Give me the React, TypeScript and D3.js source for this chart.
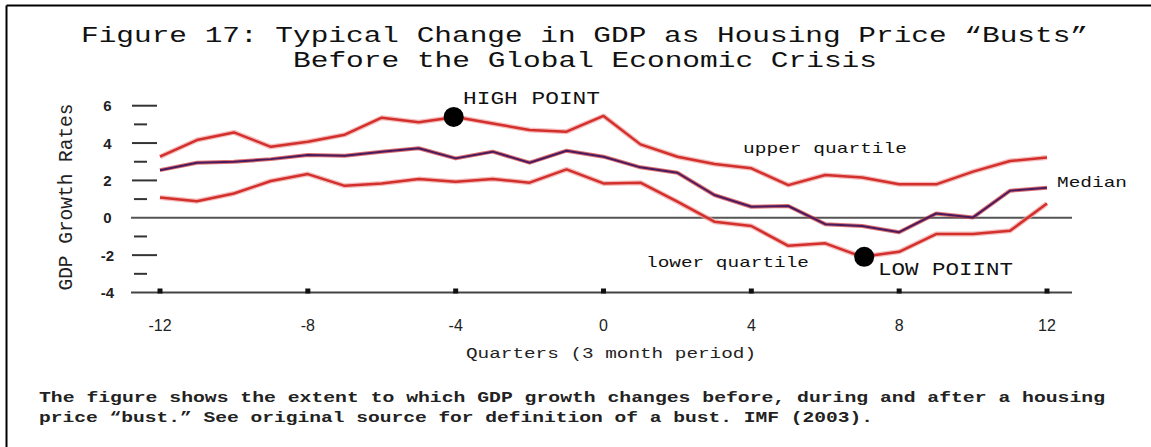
import React from "react";
import * as d3 from "d3";

const quarters = d3.range(-12, 13);
const upperQuartile = [3.27, 4.16, 4.57, 3.8, 4.07, 4.45, 5.36, 5.11, 5.4, 5.05, 4.7, 4.61, 5.45, 3.93, 3.27, 2.88, 2.65, 1.75, 2.29, 2.16, 1.79, 1.79, 2.47, 3.04, 3.23];
const median = [2.55, 2.95, 3.0, 3.14, 3.36, 3.32, 3.54, 3.72, 3.18, 3.54, 2.95, 3.59, 3.27, 2.7, 2.41, 1.22, 0.59, 0.63, -0.34, -0.44, -0.77, 0.23, 0.02, 1.45, 1.61];
const lowerQuartile = [1.09, 0.89, 1.3, 1.97, 2.34, 1.71, 1.84, 2.07, 1.93, 2.07, 1.88, 2.59, 1.84, 1.88, 0.86, -0.21, -0.44, -1.5, -1.37, -2.09, -1.82, -0.87, -0.87, -0.7, 0.77];
const xTicks = [-12, -8, -4, 0, 4, 8, 12];
const yMajorTicks = [6, 4, 2, -2];
const yMinorTicks = [5, 3, 1, -1, -3];
const yLabels = [6, 4, 2, 0, -2, -4];
const highPoint = { q: -4, v: 5.4 };
const lowPoint = { q: 7, v: -2.09 };

const W = 1151;
const H = 447;
const MONO = "'Liberation Mono', 'DejaVu Sans Mono', monospace";
const SANS = "'Liberation Sans', Arial, sans-serif";

export default function App() {
  const x = d3.scaleLinear().domain([-12, 12]).range([160, 1047]);
  const y = d3.scaleLinear().domain([-4, 6]).range([292.5, 105.7]);
  const line = d3
    .line<number>()
    .x((_, i) => x(quarters[i]))
    .y((d) => y(d))
    .curve(d3.curveLinear);

  const axisX0 = 131;
  const axisX1 = 1072;

  return (
    <svg
      width={W}
      height={H}
      style={{ position: "absolute", left: 0, top: 0, background: "#fff" }}
    >
      <rect x={0} y={0} width={W} height={H} fill="#fff" />
      {/* frame (top & left) */}
      <line x1={6.5} y1={5.5} x2={W} y2={5.5} stroke="#000" strokeWidth={2} />
      <line x1={6.5} y1={5.5} x2={6.5} y2={H} stroke="#000" strokeWidth={2} />

      {/* title */}
      <text x={81} y={41.5} fontFamily={MONO} fontSize={22} fill="#111" textLength={1007} lengthAdjust="spacingAndGlyphs">
        Figure 17: Typical Change in GDP as Housing Price “Busts”
      </text>
      <text x={293} y={66.5} fontFamily={MONO} fontSize={22} fill="#111" textLength={584} lengthAdjust="spacingAndGlyphs">
        Before the Global Economic Crisis
      </text>

      {/* y-axis label */}
      <text
        transform={`translate(71.5,197) rotate(-90)`}
        textAnchor="middle"
        fontFamily={MONO}
        fontSize={20}
        fill="#222"
        textLength={187}
        lengthAdjust="spacingAndGlyphs"
      >
        GDP Growth Rates
      </text>

      {/* y ticks */}
      {yMajorTicks.map((t) => (
        <line key={"M" + t} x1={132} x2={157} y1={y(t)} y2={y(t)} stroke="#333" strokeWidth={2} />
      ))}
      {yMinorTicks.map((t) => (
        <line key={"m" + t} x1={134} x2={147} y1={y(t)} y2={y(t)} stroke="#333" strokeWidth={2} />
      ))}
      {yLabels.map((t) => (
        <text key={"l" + t} x={107.5} y={y(t) + 5.5} textAnchor="middle" fontFamily={SANS} fontWeight="bold" fontSize={15} fill="#222">
          {t < 0 ? "-" + Math.abs(t) : t}
        </text>
      ))}

      {/* zero line and bottom axis */}
      <line x1={axisX0} x2={axisX1} y1={y(0)} y2={y(0)} stroke="#555" strokeWidth={2} />
      <line x1={axisX0} x2={axisX1} y1={y(-4)} y2={y(-4)} stroke="#444" strokeWidth={2} />
      {xTicks.map((t) => (
        <rect key={"xt" + t} x={x(t) - 2.5} y={y(-4) - 4} width={5} height={5} fill="#111" />
      ))}
      {xTicks.map((t) => (
        <text key={"xl" + t} x={x(t)} y={331} textAnchor="middle" fontFamily={SANS} fontSize={16} fill="#222">
          {t < 0 ? "-" + Math.abs(t) : t}
        </text>
      ))}
      <text x={466} y={358} fontFamily={MONO} fontSize={14} fill="#222" textLength={290} lengthAdjust="spacingAndGlyphs">
        Quarters (3 month period)
      </text>

      {/* series */}
      {[upperQuartile, lowerQuartile].map((s, i) => (
        <g key={"q" + i}>
          <path d={line(s) || ""} fill="none" stroke="#f0a0a0" strokeWidth={5} strokeLinejoin="round" opacity={0.7} />
          <path d={line(s) || ""} fill="none" stroke="#d3302c" strokeWidth={2.5} strokeLinejoin="round" />
        </g>
      ))}
      <path d={line(median) || ""} fill="none" stroke="#d04040" strokeWidth={4} strokeLinejoin="round" opacity={0.75} />
      <path d={line(median) || ""} fill="none" stroke="#4a1a5e" strokeWidth={2} strokeLinejoin="round" />

      {/* points */}
      <circle cx={x(highPoint.q) - 2} cy={y(highPoint.v)} r={10} fill="#000" />
      <circle cx={x(lowPoint.q) + 2} cy={y(lowPoint.v)} r={10} fill="#000" />

      {/* annotations */}
      <text x={463} y={104} fontFamily={MONO} fontSize={19} fill="#111" textLength={137} lengthAdjust="spacingAndGlyphs">
        HIGH POINT
      </text>
      <text x={743} y={153} fontFamily={MONO} fontSize={15} fill="#111" textLength={164} lengthAdjust="spacingAndGlyphs">
        upper quartile
      </text>
      <text x={646} y={266.5} fontFamily={MONO} fontSize={15} fill="#111" textLength={163} lengthAdjust="spacingAndGlyphs">
        lower quartile
      </text>
      <text x={878} y={275} fontFamily={MONO} fontSize={19} fill="#111" textLength={135} lengthAdjust="spacingAndGlyphs">
        LOW POIINT
      </text>
      <text x={1057} y={186.5} fontFamily={MONO} fontSize={15} fill="#111" textLength={70} lengthAdjust="spacingAndGlyphs">
        Median
      </text>

      {/* caption */}
      <text x={39} y={401.5} fontFamily={MONO} fontSize={15} fontWeight="bold" fill="#222" textLength={1066} lengthAdjust="spacingAndGlyphs">
        The figure shows the extent to which GDP growth changes before, during and after a housing
      </text>
      <text x={39} y={421.5} fontFamily={MONO} fontSize={15} fontWeight="bold" fill="#222" textLength={834} lengthAdjust="spacingAndGlyphs">
        price “bust.” See original source for definition of a bust. IMF (2003).
      </text>
    </svg>
  );
}
